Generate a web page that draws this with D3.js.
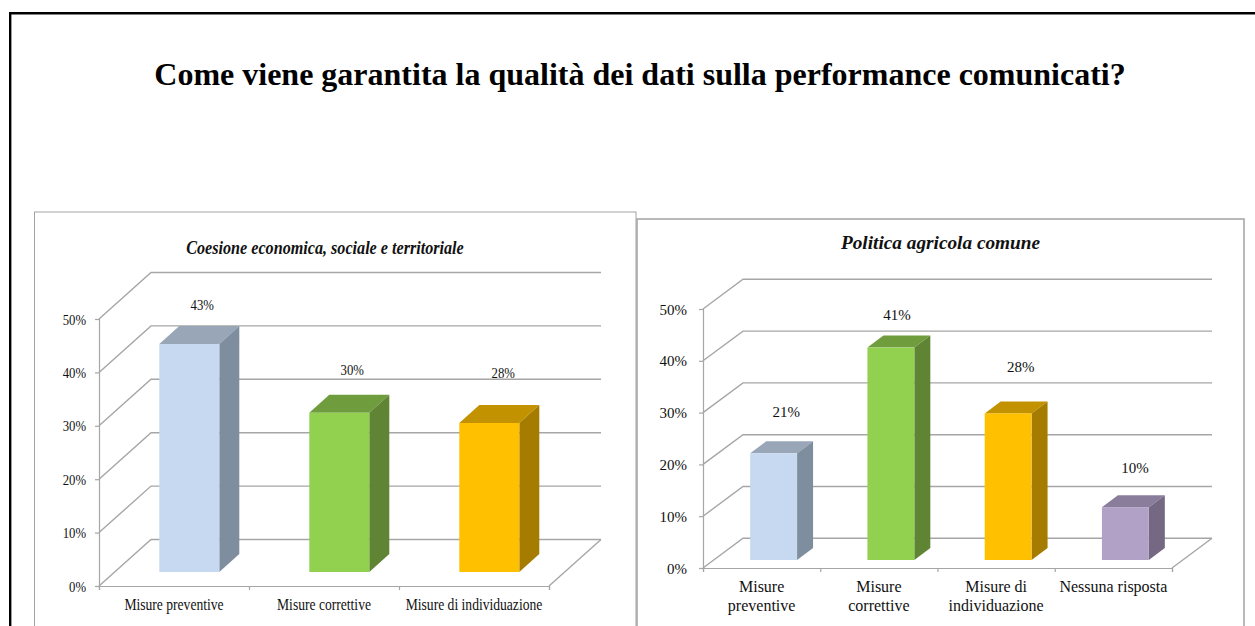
<!DOCTYPE html>
<html>
<head>
<meta charset="utf-8">
<script src="https://d3js.org/d3.v7.min.js"></script>
<style>
  html, body { margin: 0; padding: 0; background: #fff; overflow: hidden; }
  text { font-family: "Liberation Serif", serif; fill: #111; }
  .grid { stroke: #a6a6a6; stroke-width: 1.4; fill: none; }
  .axis path, .axis line { stroke: #a6a6a6; stroke-width: 1.2; }
  .frame { fill: #fff; stroke: #a3a3a3; }
</style>
</head>
<body>
<script>
// values
var pageTitle = "Come viene garantita la qualità dei dati sulla performance comunicati?";
var yTicks = [0, 10, 20, 30, 40, 50];

var title1 = "Coesione economica, sociale e territoriale";
var categories1 = ["Misure preventive", "Misure correttive", "Misure di individuazione"];
var values1 = [42.7, 29.8, 27.9];

var title2 = "Politica agricola comune";
var categories2 = [["Misure", "preventive"], ["Misure", "correttive"], ["Misure di", "individuazione"], ["Nessuna risposta"]];
var values2 = [20.6, 41, 28.3, 10.2];

// front, top, side
var colors = [
  ["#c6d9f1", "#98a6b8", "#7f8e9e"],
  ["#92d050", "#6f9c3d", "#5f8433"],
  ["#ffc000", "#c29200", "#a67c00"],
  ["#b2a1c7", "#8a7c9b", "#746883"]
];

var width = 1255, height = 626;

var svg = d3.select("body").append("svg")
    .attr("width", width)
    .attr("height", height)
    .style("display", "block");

// outer black border, runs off the page on the right and bottom
svg.append("path")
    .attr("d", "M10.2,630V13.2H1260")
    .attr("fill", "none")
    .attr("stroke", "#000")
    .attr("stroke-width", 2.4);

svg.append("text")
    .attr("x", 640)
    .attr("y", 85)
    .attr("text-anchor", "middle")
    .attr("font-size", 32)
    .attr("font-weight", "bold")
    .style("fill", "#000")
    .text(pageTitle);

// squeeze text horizontally around its anchor
function squeeze(sel, sx) {
  sel.each(function() {
    var t = d3.select(this);
    var px = +t.attr("x") || 0;
    t.attr("x", 0).attr("transform", "translate(" + px + "," + (+t.attr("data-y") || 0) + ") scale(" + sx + ",1)");
  });
}

function drawChart(c) {
  var g = svg.append("g");

  g.append("rect").attr("class", "frame")
      .attr("x", c.frame[0])
      .attr("y", c.frame[1])
      .attr("width", c.frame[2] - c.frame[0])
      .attr("height", 640 - c.frame[1])
      .attr("stroke-width", c.frameWidth);

  var titleText = g.append("text")
      .attr("x", c.titleX)
      .attr("data-y", c.titleY)
      .attr("text-anchor", "middle")
      .attr("font-size", c.titleSize)
      .attr("font-weight", "bold")
      .attr("font-style", "italic")
      .text(c.title);
  squeeze(titleText, c.sx);

  var y = d3.scaleLinear().domain([0, 50]).range([c.y0, c.y50]);
  var x = d3.scaleBand()
      .domain(d3.range(c.values.length))
      .range([c.x0, c.x1])
      .paddingInner(c.padding)
      .paddingOuter(c.padding / 2);

  // walls and floor
  var wall = g.append("g");
  yTicks.forEach(function(d) {
    wall.append("path").attr("class", "grid")
        .attr("d", "M" + c.x0 + "," + y(d) + "L" + (c.x0 + c.wallDx) + "," + (y(d) + c.wallDy) + "H" + (c.x1 + c.wallDx));
  });
  wall.append("path").attr("class", "grid")
      .attr("d", "M" + c.x1 + "," + y(0) + "L" + (c.x1 + c.wallDx) + "," + (y(0) + c.wallDy));

  // y axis
  var yAxis = g.append("g")
      .attr("class", "axis")
      .attr("transform", "translate(" + c.x0 + ",0)")
      .call(d3.axisLeft(y).tickValues(yTicks).tickSize(4).tickPadding(c.yPad).tickFormat(function(d) { return d + "%"; }));
  yAxis.selectAll("text")
      .attr("font-size", c.fontSize)
      .attr("dy", "0.34em");
  squeeze(yAxis.selectAll("text"), c.sx);

  // x axis, ticks sit on the band edges so they are drawn from a second scale
  var xEdges = d3.scaleLinear().domain([0, c.values.length]).range([c.x0, c.x1]);
  g.append("g")
      .attr("class", "axis")
      .attr("transform", "translate(0," + c.y0 + ")")
      .call(d3.axisBottom(xEdges).tickValues(d3.range(c.values.length + 1)).tickSize(4).tickFormat(""));

  c.categories.forEach(function(lines, i) {
    var cx = xEdges(i + 0.5);
    [].concat(lines).forEach(function(line, k) {
      var t = g.append("text")
          .attr("x", cx)
          .attr("data-y", c.catY + k * c.catLine)
          .attr("text-anchor", "middle")
          .attr("font-size", c.catSize)
          .text(line);
      squeeze(t, c.sx);
    });
  });

  // bars
  var bars = g.selectAll(".bar")
      .data(c.values)
    .enter().append("g")
      .attr("class", "bar");

  function left(i) { return x(i) + c.barShift; }
  function top(d) { return y(d) - c.floor; }
  var base = y(0) - c.floor;

  bars.append("polygon")
      .attr("fill", function(d, i) { return colors[i][1]; })
      .attr("points", function(d, i) {
        var a = left(i), b = a + x.bandwidth(), t = top(d);
        return [[a, t], [a + c.barDx, t + c.barDy], [b + c.barDx, t + c.barDy], [b, t]].join(" ");
      });
  bars.append("polygon")
      .attr("fill", function(d, i) { return colors[i][2]; })
      .attr("points", function(d, i) {
        var b = left(i) + x.bandwidth(), t = top(d);
        return [[b, t], [b + c.barDx, t + c.barDy], [b + c.barDx, base + c.barDy], [b, base]].join(" ");
      });
  bars.append("rect")
      .attr("fill", function(d, i) { return colors[i][0]; })
      .attr("x", function(d, i) { return left(i); })
      .attr("y", top)
      .attr("width", x.bandwidth())
      .attr("height", function(d) { return base - top(d); });

  // labels were moved by hand in the original
  c.values.forEach(function(d, i) {
    var t = g.append("text")
        .attr("x", left(i) + x.bandwidth() / 2 + c.labelDx[i])
        .attr("data-y", top(d) - c.labelDy[i])
        .attr("text-anchor", "middle")
        .attr("font-size", c.fontSize)
        .text(Math.round(d) + "%");
    squeeze(t, c.sx);
  });
}

drawChart({
  title: title1, categories: categories1, values: values1,
  frame: [34.5, 212, 636], frameWidth: 1,
  titleX: 325, titleY: 254, titleSize: 19, sx: 0.85,
  x0: 99, x1: 549, y0: 586, y50: 319,
  wallDx: 52, wallDy: -46.5, floor: 14,
  padding: 0.6, barShift: 15.3, barDx: 20, barDy: -18,
  fontSize: 15, catSize: 16, yPad: 9, catY: 610, catLine: 19,
  labelDx: [13, 13, 14], labelDy: [34, 38, 45]
});

drawChart({
  title: title2, categories: categories2, values: values2,
  frame: [637, 219, 1244], frameWidth: 1.5,
  titleX: 940.5, titleY: 249, titleSize: 19.3, sx: 1,
  x0: 703, x1: 1172, y0: 568, y50: 309,
  wallDx: 40, wallDy: -29.7, floor: 8,
  padding: 0.6, barShift: 12, barDx: 16, barDy: -12,
  fontSize: 15, catSize: 16, yPad: 12, catY: 592, catLine: 19,
  labelDx: [12.5, 6, 12.5, 9.5], labelDy: [36, 28, 41, 34]
});
</script>
</body>
</html>
